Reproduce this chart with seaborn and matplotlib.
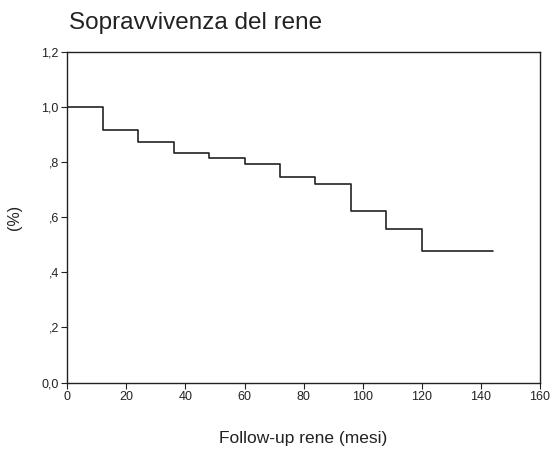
import matplotlib
matplotlib.use("Agg")
import matplotlib.pyplot as plt
import seaborn as sns
import pandas as pd

months = [0, 12, 24, 36, 48, 60, 72, 84, 96, 108, 120, 144]
survival = [1.0, 0.918, 0.873, 0.834, 0.816, 0.793, 0.748, 0.721, 0.622, 0.558, 0.479, 0.479]
x_ticks = [0, 20, 40, 60, 80, 100, 120, 140, 160]
y_ticks = [0.0, 0.2, 0.4, 0.6, 0.8, 1.0, 1.2]
y_tick_labels = ["0,0", ",2", ",4", ",6", ",8", "1,0", "1,2"]

sns.set_style("ticks")
plt.rcParams["font.family"] = ["Liberation Sans", "DejaVu Sans"]

df = pd.DataFrame({"mesi": months, "sopravvivenza": survival})

fig = plt.figure(figsize=(5.51, 4.49), dpi=100)
ax = fig.add_axes([0.122, 0.148, 0.858, 0.736])
sns.lineplot(data=df, x="mesi", y="sopravvivenza", drawstyle="steps-post",
             color="#222222", linewidth=1.2, ax=ax)

ax.set_xlim(0, 160)
ax.set_ylim(0, 1.2)
ax.set_xticks(x_ticks)
ax.set_yticks(y_ticks)
ax.set_yticklabels(y_tick_labels)
for s in ax.spines.values():
    s.set_color("#222222")
    s.set_linewidth(1.0)
ax.tick_params(axis="both", labelsize=9, length=4, width=0.8, colors="#222222", pad=2)

ax.set_xlabel("Follow-up rene (mesi)", fontsize=12.5, labelpad=20, color="#222222")
ax.set_ylabel("(%)", fontsize=11.5, labelpad=14, color="#222222")
fig.text(0.125, 0.949, "Sopravvivenza del rene", fontsize=17.5, color="#222222",
         ha="left", va="center")

fig.savefig("out.png", dpi=100)
